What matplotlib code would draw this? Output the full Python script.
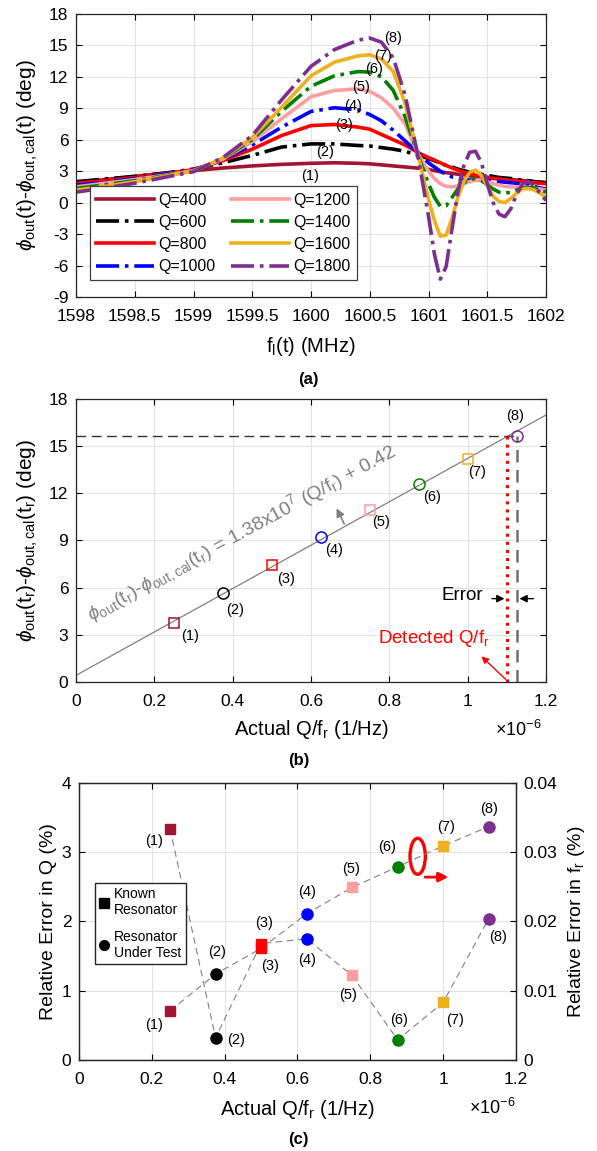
import matplotlib
matplotlib.use("Agg")
import matplotlib.pyplot as plt
from matplotlib.patches import Ellipse
import numpy as np

plt.rcParams['font.family'] = ['Liberation Sans', 'DejaVu Sans']
plt.rcParams['mathtext.fontset'] = 'custom'
plt.rcParams['mathtext.rm'] = 'Liberation Sans'
plt.rcParams['mathtext.it'] = 'Liberation Sans:italic'
plt.rcParams['mathtext.bf'] = 'Liberation Sans:bold'
plt.rcParams['font.size'] = 12.5
plt.rcParams['axes.unicode_minus'] = False

# ---------------- data (a) ----------------
freq = [1598.0, 1598.25, 1598.5, 1598.75, 1599.0, 1599.25, 1599.5, 1599.75,
        1600.0, 1600.2, 1600.4, 1600.5, 1600.6, 1600.7, 1600.8, 1600.9,
        1600.95, 1601.0, 1601.05, 1601.1, 1601.15, 1601.2, 1601.25, 1601.3,
        1601.35, 1601.4, 1601.45, 1601.5, 1601.55, 1601.6, 1601.65, 1601.7,
        1601.75, 1601.8, 1601.85, 1601.9, 1601.95, 1602.0]

q400 = [1.9, 2.2, 2.5, 2.8, 3.05, 3.3, 3.5, 3.65, 3.75, 3.8, 3.75, 3.7, 3.6, 3.5, 3.4, 3.3,
        3.25, 3.15, 3.05, 2.95, 2.85, 2.8, 2.7, 2.65, 2.55, 2.5, 2.45, 2.4, 2.35, 2.3, 2.25, 2.2,
        2.15, 2.1, 2.05, 2.0, 1.95, 1.9]
q600 = [2.0, 2.25, 2.5, 2.8, 3.2, 3.8, 4.5, 5.3, 5.6, 5.6, 5.45, 5.4, 5.25, 5.1, 4.9, 4.55,
        4.4, 4.2, 4.0, 3.75, 3.55, 3.4, 3.2, 3.05, 2.9, 2.8, 2.7, 2.6, 2.5, 2.4, 2.35, 2.3,
        2.2, 2.15, 2.1, 2.0, 1.95, 1.9]
q800 = [1.85, 2.1, 2.4, 2.75, 3.15, 4.0, 5.1, 6.4, 7.35, 7.45, 7.2, 7.0, 6.5, 6.0, 5.5, 4.85,
        4.55, 4.3, 4.05, 3.8, 3.55, 3.3, 3.1, 2.9, 2.75, 2.6, 2.5, 2.4, 2.3, 2.25, 2.2, 2.1,
        2.05, 2.0, 1.95, 1.9, 1.85, 1.8]
q1000 = [1.65, 1.95, 2.3, 2.7, 3.1, 4.1, 5.5, 7.2, 8.7, 9.05, 8.85, 8.4, 7.8, 6.9, 5.9, 4.85,
         4.3, 3.8, 3.4, 3.0, 2.7, 2.45, 2.3, 2.2, 2.15, 2.15, 2.15, 2.1, 2.05, 2.0, 1.95, 1.9,
         1.85, 1.75, 1.65, 1.55, 1.4, 1.3]
q1200 = [1.5, 1.85, 2.2, 2.6, 3.05, 4.15, 5.8, 8.0, 10.1, 10.7, 10.85, 10.6, 10.0, 9.0, 7.5, 4.9,
         3.9, 3.0, 2.3, 1.8, 1.55, 1.5, 1.6, 1.8, 2.0, 2.15, 2.15, 2.0, 1.8, 1.65, 1.55, 1.5,
         1.5, 1.5, 1.45, 1.4, 1.3, 1.2]
q1400 = [1.35, 1.7, 2.1, 2.55, 3.0, 4.2, 6.0, 8.7, 11.1, 12.1, 12.5, 12.45, 12.0, 10.7, 8.2, 4.9,
         3.3, 1.8, 0.5, -0.35, -0.3, 0.5, 1.3, 1.9, 2.2, 2.3, 2.1, 1.7, 1.3, 1.0, 0.9, 1.0,
         1.2, 1.4, 1.45, 1.4, 1.2, 1.0]
q1600 = [1.2, 1.55, 2.0, 2.5, 3.0, 4.25, 6.2, 9.1, 12.1, 13.4, 14.0, 14.1, 13.7, 12.5, 9.5, 5.0,
         2.7, 0.3, -1.7, -3.2, -3.1, -1.5, 0.5, 2.0, 2.9, 3.1, 2.6, 1.6, 0.6, 0.1, 0.0, 0.4,
         0.9, 1.3, 1.35, 1.2, 0.9, 0.5]
q1800 = [1.0, 1.4, 1.85, 2.4, 2.95, 4.3, 6.4, 9.8, 13.0, 14.6, 15.5, 15.7, 15.3, 13.8, 10.3, 5.0,
         1.9, -1.3, -4.9, -7.3, -6.1, -2.5, 1.0, 3.5, 4.8, 4.9, 3.8, 1.8, 0.0, -1.1, -1.35, -0.6,
         0.8, 1.8, 2.0, 1.6, 0.9, 0.2]

curves_a = [q400, q600, q800, q1000, q1200, q1400, q1600, q1800]
q_names = ['Q=400', 'Q=600', 'Q=800', 'Q=1000', 'Q=1200', 'Q=1400', 'Q=1600', 'Q=1800']
colors = ['#A2142F', 'k', '#FF0000', '#0000FF', '#FF9E9E', '#007F00', '#EDB120', '#7E2F8E']
styles = ['-', '-.', '-', '-.', '-', '-.', '-', '-.']
num_labels = ['(1)', '(2)', '(3)', '(4)', '(5)', '(6)', '(7)', '(8)']
lab_a_x = [1599.99, 1600.12, 1600.28, 1600.36, 1600.43, 1600.54, 1600.61, 1600.70]
lab_a_y = [2.5, 4.8, 7.4, 9.2, 11.0, 12.7, 13.95, 15.75]

xticks_a = [1598, 1598.5, 1599, 1599.5, 1600, 1600.5, 1601, 1601.5, 1602]
xticklabels_a = ['1598', '1598.5', '1599', '1599.5', '1600', '1600.5', '1601', '1601.5', '1602']
yticks_a = [-9, -6, -3, 0, 3, 6, 9, 12, 15, 18]

# ---------------- data (b) ----------------
qf_actual = [0.25, 0.375, 0.5, 0.625, 0.75, 0.875, 1.0, 1.125]   # x 1e-6 1/Hz
phase_b = [3.76, 5.63, 7.43, 9.19, 10.93, 12.59, 14.16, 15.67]
markers_b = ['s', 'o', 's', 'o', 's', 'o', 's', 'o']
lab_b_x = [0.29, 0.406, 0.537, 0.66, 0.78, 0.908, 1.023, 1.12]
lab_b_y = [2.9, 4.56, 6.52, 8.39, 10.19, 11.78, 13.37, 16.9]
fit_slope = 13.8       # 1.38e7 per (1e-6 1/Hz)
fit_offset = 0.42
detected_qf = 1.101
xticks_b = [0, 0.2, 0.4, 0.6, 0.8, 1.0, 1.2]
xticklabels_b = ['0', '0.2', '0.4', '0.6', '0.8', '1', '1.2']

# ---------------- data (c) ----------------
err_q = [3.34, 0.32, 1.68, 1.75, 1.22, 0.29, 0.83, 2.04]
err_f = [0.0071, 0.0124, 0.0161, 0.0211, 0.0249, 0.0279, 0.0309, 0.0337]
lab_q_x = [0.205, 0.43, 0.526, 0.626, 0.74, 0.88, 1.033, 1.15]
lab_q_y = [3.16, 0.29, 1.36, 1.44, 0.94, 0.58, 0.58, 1.78]
lab_f_x = [0.205, 0.38, 0.508, 0.625, 0.747, 0.845, 1.007, 1.125]
lab_f_y = [0.51, 1.56, 1.98, 2.42, 2.76, 3.07, 3.36, 3.63]


def style_axes(ax):
    ax.tick_params(direction='in', top=True, right=True, length=4, width=0.8)
    ax.tick_params(axis='x', pad=8.5)
    ax.tick_params(axis='y', pad=5.5)
    ax.grid(True, color='#e3e3e3', lw=0.8)
    ax.set_axisbelow(True)
    for s in ax.spines.values():
        s.set_color('#262626')
        s.set_linewidth(0.9)


fig = plt.figure(figsize=(5.97, 11.51), dpi=100)

# ================= (a) =================
ax = fig.add_axes([0.1273, 0.7420, 0.7873, 0.2459])
for y, c, ls, nm in zip(curves_a, colors, styles, q_names):
    ax.plot(freq, y, color=c, ls=ls, lw=2.6, label=nm)
for x, y, t in zip(lab_a_x, lab_a_y, num_labels):
    ax.text(x, y, t, ha='center', va='center', fontsize=10.5)
ax.set_xlim(1598, 1602)
ax.set_ylim(-9, 18)
ax.set_xticks(xticks_a)
ax.set_xticklabels(xticklabels_a)
ax.set_yticks(yticks_a)
style_axes(ax)
ax.set_xlabel(r'f$_\mathrm{l}$(t) (MHz)', fontsize=14.5, va='top')
ax.xaxis.set_label_coords(0.5, -0.134)
ax.set_ylabel(r'$\phi_\mathrm{out}$(t)-$\phi_\mathrm{out,cal}$(t) (deg)', fontsize=15)
ax.yaxis.set_label_coords(-0.077, 0.5)
leg = ax.legend(ncol=2, loc='lower left', bbox_to_anchor=(0.012, 0.03), fancybox=False,
                edgecolor='#404040', framealpha=1, handlelength=3.6, columnspacing=1.0,
                labelspacing=0.45, handletextpad=0.3, borderpad=0.4, fontsize=11.5)
leg.get_frame().set_linewidth(0.9)
fig.text(0.516, 0.6707, '(a)', ha='center', va='center', fontsize=12, fontweight='bold')

# ================= (b) =================
ax = fig.add_axes([0.1273, 0.4075, 0.7873, 0.2459])
xl = np.array([0, 1.2])
ax.plot(xl, fit_slope * xl + fit_offset, color='#808080', lw=0.9)
ax.plot([0, qf_actual[-1]], [phase_b[-1], phase_b[-1]], color='#333333', lw=1.0, ls=(0, (7, 4)))
ax.plot([qf_actual[-1], qf_actual[-1]], [0, phase_b[-1]], color='#707070', lw=1.8, ls=(0, (5, 3)))
ax.plot([detected_qf, detected_qf], [0, phase_b[-1]], color='#FF0000', lw=2.2, ls=':')
for x, y, c, m in zip(qf_actual, phase_b, colors, markers_b):
    ax.plot(x, y, marker=m, mfc='none', mec=c, ms=8 if m == 'o' else 7, mew=1.1, ls='none')
for x, y, t in zip(lab_b_x, lab_b_y, num_labels):
    ax.text(x, y, t, ha='center', va='center', fontsize=10.5)
ax.text(0.048, 3.45, r'$\phi_\mathrm{out}\mathrm{(t}_\mathrm{r}\mathrm{)}$-$\phi_\mathrm{out,cal}\mathrm{(t}_\mathrm{r}\mathrm{)}$'
        r' = 1.38x10$^7$ (Q/f$_\mathrm{r}$) + 0.42', color='#808080', fontsize=14,
        rotation=28.5, rotation_mode='anchor', ha='left', va='bottom')
ax.annotate('', xy=(0.662, 11.2), xytext=(0.688, 9.9),
            arrowprops=dict(arrowstyle='-|>', color='#808080', lw=1.2, mutation_scale=12))
ax.text(1.04, 5.5, 'Error', ha='right', va='center', fontsize=13.5)
ax.annotate('', xy=(detected_qf, 5.3), xytext=(1.055, 5.3),
            arrowprops=dict(arrowstyle='-|>', color='k', lw=1.0, mutation_scale=11))
ax.annotate('', xy=(qf_actual[-1], 5.3), xytext=(1.175, 5.3),
            arrowprops=dict(arrowstyle='-|>', color='k', lw=1.0, mutation_scale=11))
ax.text(0.772, 2.75, r'Detected Q/f$_\mathrm{r}$', color='#FF0000', ha='left', va='center', fontsize=13.5)
ax.annotate('', xy=(1.03, 1.75), xytext=(1.102, 0.05),
            arrowprops=dict(arrowstyle='-|>', color='#FF0000', lw=1.0, mutation_scale=10))
ax.set_xlim(0, 1.2)
ax.set_ylim(0, 18)
ax.set_xticks(xticks_b)
ax.set_xticklabels(xticklabels_b)
ax.set_yticks([0, 3, 6, 9, 12, 15, 18])
style_axes(ax)
ax.set_xlabel(r'Actual Q/f$_\mathrm{r}$ (1/Hz)', fontsize=14.5, va='top')
ax.xaxis.set_label_coords(0.5, -0.127)
ax.set_ylabel(r'$\phi_\mathrm{out}\mathrm{(t}_\mathrm{r}\mathrm{)}$-$\phi_\mathrm{out,cal}\mathrm{(t}_\mathrm{r}\mathrm{)}$ (deg)', fontsize=15)
ax.yaxis.set_label_coords(-0.077, 0.5)
ax.text(0.99, -0.17, r'$\times$10$^{-6}$', transform=ax.transAxes, ha='right', va='center', fontsize=13)
fig.text(0.50, 0.3397, '(b)', ha='center', va='center', fontsize=12, fontweight='bold')

# ================= (c) =================
ax = fig.add_axes([0.1323, 0.0791, 0.7320, 0.2407])
ax2 = ax.twinx()
ax.plot(qf_actual, err_q, color='#808080', lw=0.8, ls=(0, (6, 4)))
ax2.plot(qf_actual, err_f, color='#808080', lw=0.8, ls=(0, (6, 4)))
for x, y, c, m in zip(qf_actual, err_q, colors, markers_b):
    ax.plot(x, y, marker=m, color=c, ms=8 if m == 'o' else 7.5, ls='none')
for x, y, c, m in zip(qf_actual, err_f, colors, markers_b):
    ax2.plot(x, y, marker=m, color=c, ms=8 if m == 'o' else 7.5, ls='none')
for x, y, t in zip(lab_q_x, lab_q_y, num_labels):
    ax.text(x, y, t, ha='center', va='center', fontsize=10.5)
for x, y, t in zip(lab_f_x, lab_f_y, num_labels):
    ax.text(x, y, t, ha='center', va='center', fontsize=10.5)
ax.add_patch(Ellipse((0.93, 2.94), 0.042, 0.52, fill=False, ec='#FF0000', lw=2.4))
ax.annotate('', xy=(1.022, 2.64), xytext=(0.943, 2.64),
            arrowprops=dict(arrowstyle='-|>', color='#FF0000', lw=2.0, mutation_scale=14))
h1, = ax.plot([], [], 's', color='k', ms=7)
h2, = ax.plot([], [], 'o', color='k', ms=7)
leg = ax.legend([h1, h2], ['Known\nResonator', 'Resonator\nUnder Test'], loc='upper left',
                bbox_to_anchor=(0.02, 0.665), fancybox=False, edgecolor='#262626', framealpha=1,
                handlelength=0.7, handletextpad=0.4, labelspacing=0.9, borderpad=0.3, fontsize=10)
leg.get_frame().set_linewidth(1.0)
ax.set_xlim(0, 1.2)
ax.set_ylim(0, 4)
ax2.set_ylim(0, 0.04)
ax.set_xticks(xticks_b)
ax.set_xticklabels(xticklabels_b)
ax.set_yticks([0, 1, 2, 3, 4])
ax2.set_yticks([0, 0.01, 0.02, 0.03, 0.04])
ax2.set_yticklabels(['0', '0.01', '0.02', '0.03', '0.04'])
ax.grid(True, color='#e3e3e3', lw=0.8)
ax.set_axisbelow(True)
ax.tick_params(direction='in', top=True, length=4)
ax.tick_params(axis='x', pad=8.5)
ax.tick_params(axis='y', pad=5.5)
ax2.tick_params(direction='in', length=4, pad=5.5)
for a in (ax, ax2):
    for s in a.spines.values():
        s.set_color('#262626')
        s.set_linewidth(0.9)
ax.set_xlabel(r'Actual Q/f$_\mathrm{r}$ (1/Hz)', fontsize=14.5, va='top')
ax.xaxis.set_label_coords(0.5, -0.137)
ax.set_ylabel('Relative Error in Q (%)', fontsize=14)
ax2.set_ylabel(r'Relative Error in f$_\mathrm{r}$ (%)', fontsize=14)
ax.yaxis.set_label_coords(-0.05, 0.5)
ax2.yaxis.set_label_coords(1.114, 0.5)
ax.text(0.998, -0.173, r'$\times$10$^{-6}$', transform=ax.transAxes, ha='right', va='center', fontsize=13)
fig.text(0.50, 0.0096, '(c)', ha='center', va='center', fontsize=12, fontweight='bold')

fig.savefig('out.png', dpi=100)
